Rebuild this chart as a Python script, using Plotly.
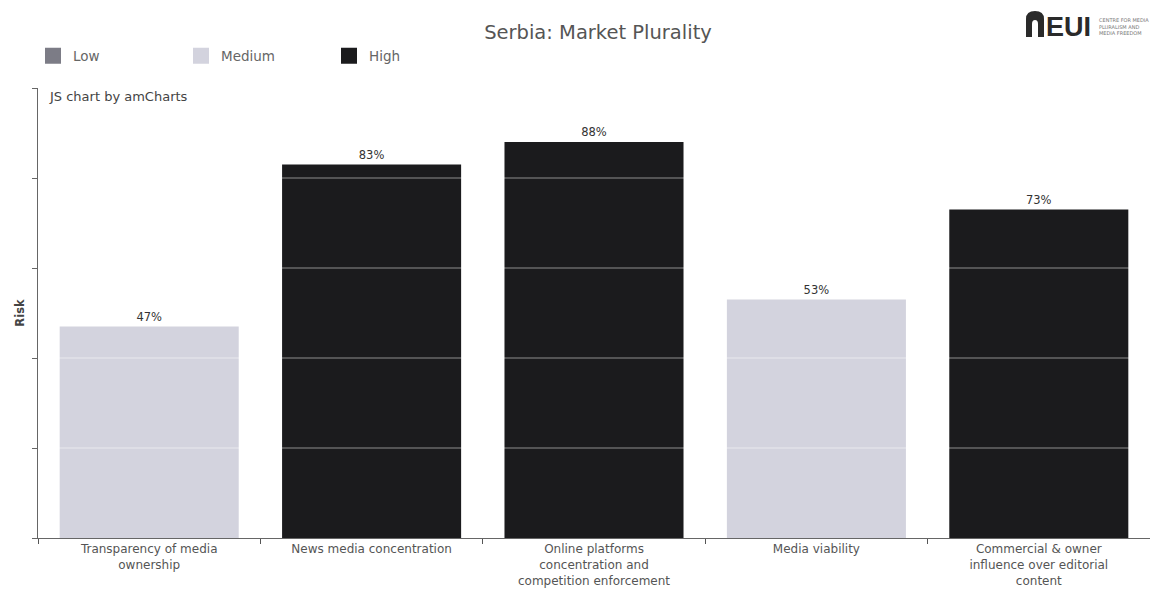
import plotly.graph_objects as go

# Market Plurality indicators and their risk scores (%)
categories = [
    "Transparency of media<br>ownership",
    "News media concentration",
    "Online platforms<br>concentration and<br>competition enforcement",
    "Media viability",
    "Commercial &amp; owner<br>influence over editorial<br>content",
]
risk_values = [47, 83, 88, 53, 73]
risk_levels = ["Medium", "High", "High", "Medium", "High"]

level_names = ["Low", "Medium", "High"]
level_colors = {"Low": "#7c7c86", "Medium": "#d3d3de", "High": "#1b1b1d"}
grid_values = [20, 40, 60, 80]

FONT = "DejaVu Sans, Verdana, sans-serif"

# plot area in pixels, used to place decorations in paper units
L, R, T, B = 38, 0, 88, 63
W, H = 1150, 601
PW, PH = W - L - R, H - T - B


def px(x):
    return (x - L) / PW


def py(y):
    return (H - B - y) / PH


fig = go.Figure()
for level in level_names:
    ys = [v if lv == level else None for v, lv in zip(risk_values, risk_levels)]
    fig.add_trace(go.Bar(
        x=categories,
        y=ys,
        name=level,
        showlegend=False,
        marker=dict(color=level_colors[level], line=dict(width=0)),
        text=[f"{v}%" if v is not None else "" for v in ys],
        textposition="outside",
        textfont=dict(size=11.5, color="#333333", family=FONT),
        cliponaxis=False,
        hoverinfo="x+y",
    ))
    # legend entry with a large square swatch
    fig.add_trace(go.Scatter(
        x=[None], y=[None], mode="markers", name=level,
        marker=dict(symbol="square", size=18, color=level_colors[level]),
        showlegend=True, hoverinfo="skip",
    ))

# light grid lines drawn over the bars
for g in grid_values:
    fig.add_shape(type="line", xref="paper", yref="y", x0=0, x1=1, y0=g, y1=g,
                  line=dict(color="rgba(255,255,255,0.5)", width=1), layer="above")

fig.update_layout(
    width=W, height=H,
    margin=dict(l=L, r=R, t=T, b=B),
    paper_bgcolor="white", plot_bgcolor="white",
    barmode="overlay", bargap=0.195,
    font=dict(family=FONT, color="#555555"),
    title=dict(text="Serbia: Market Plurality", x=0.52, xanchor="center", y=0.947, yanchor="middle",
               font=dict(size=19.5, color="#555555", family=FONT)),
    legend=dict(orientation="h", x=px(33), xanchor="left", y=py(56), yanchor="middle",
                font=dict(size=13.5, color="#666666", family=FONT),
                entrywidth=103, entrywidthmode="pixels", itemsizing="trace",
                traceorder="normal", bgcolor="rgba(0,0,0,0)"),
    showlegend=True,
    xaxis=dict(type="category", tickson="boundaries", ticks="outside", ticklen=5,
               tickcolor="#555555", showline=True, linecolor="#666666", linewidth=1,
               tickfont=dict(size=12, color="#555555", family=FONT), showgrid=False),
    yaxis=dict(range=[0, 100], dtick=20, ticks="outside", ticklen=5, tickcolor="#666666",
               showticklabels=False, showline=True, linecolor="#666666", linewidth=1,
               showgrid=False, zeroline=False,
               title=dict(text="<b>Risk</b>", font=dict(size=11.5, color="#444444", family=FONT), standoff=4)),
)

fig.add_annotation(text="JS chart by amCharts", xref="paper", yref="paper",
                   x=px(47), y=py(96), xanchor="left", yanchor="middle", showarrow=False,
                   font=dict(size=13, color="#444444", family=FONT))

# EUI logo mark in the top right corner
a0, a1, ai0, ai1 = px(1026), px(1044), px(1032), px(1038)
top, shoulder, inner_top, inner_sh, base = py(11), py(19), py(20), py(24), py(37)
mid = (a0 + a1) / 2
arch = (f"M {a0} {base} L {a0} {shoulder} Q {a0} {top} {mid} {top} Q {a1} {top} {a1} {shoulder} "
        f"L {a1} {base} L {ai1} {base} L {ai1} {inner_sh} Q {ai1} {inner_top} {mid} {inner_top} "
        f"Q {ai0} {inner_top} {ai0} {inner_sh} L {ai0} {base} Z")
fig.add_shape(type="path", xref="paper", yref="paper", layer="above", path=arch,
              fillcolor="#2a2a2a", line=dict(width=0))
fig.add_annotation(text="<b>EUI</b>", xref="paper", yref="paper", x=px(1044), y=py(27),
                   xanchor="left", yanchor="middle", showarrow=False,
                   font=dict(size=27, color="#2a2a2a", family="Liberation Sans Narrow, Liberation Sans, Arial"))
fig.add_annotation(text="CENTRE FOR MEDIA<br>PLURALISM AND<br>MEDIA FREEDOM", xref="paper", yref="paper",
                   x=px(1097), y=py(27), xanchor="left", yanchor="middle", showarrow=False, align="left",
                   font=dict(size=5, color="#777777", family=FONT))

fig.write_html("out.html")
